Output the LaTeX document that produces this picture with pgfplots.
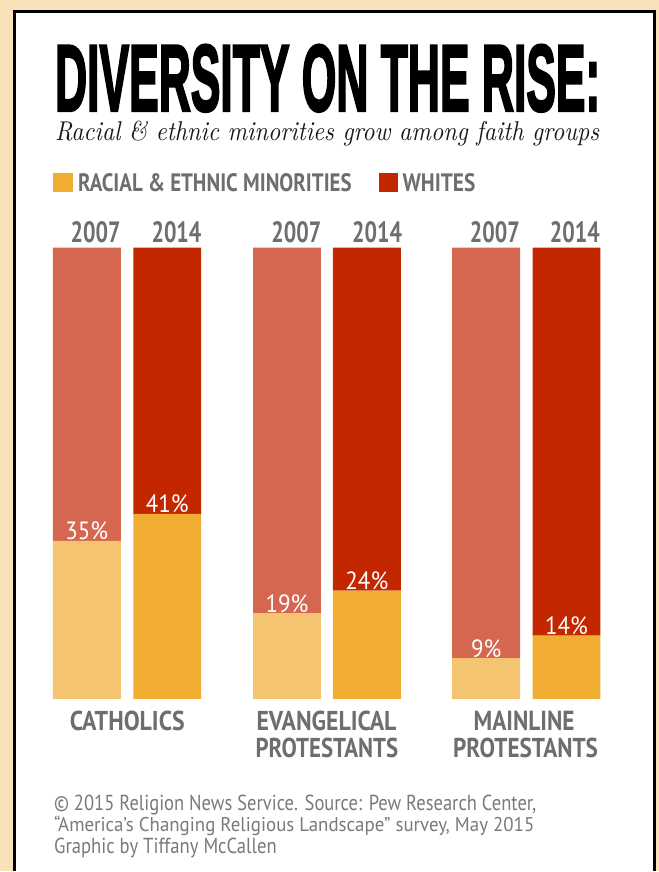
\documentclass[border=0pt]{standalone}
\usepackage{pgfplots}
\pgfplotsset{compat=1.18}
\usepackage{fontspec}
\usepackage{graphicx}
\newfontfamily\ptsans{PT Sans}
\newfontfamily\titlefont[FakeBold=3]{Liberation Sans Bold}
\definecolor{beige}{HTML}{F9E1BA}
\definecolor{minA}{HTML}{F5C470}
\definecolor{minB}{HTML}{F0AD32}
\definecolor{whA}{HTML}{D5664F}
\definecolor{whB}{HTML}{C22700}
\definecolor{txtgray}{HTML}{6E6E6E}
\definecolor{footgray}{HTML}{7A7A7A}
\newcommand{\rb}[3]{\resizebox{#1pt}{#2pt}{#3}}
\pgfplotsset{barframe/.style={at={(0pt,172pt)}, anchor=south west, scale only axis,
  width=660pt, height=452pt, xmin=0, xmax=660, ymin=0, ymax=100,
  hide axis, clip=false}}
\begin{document}
\begin{tikzpicture}[x=1pt,y=1pt]
% background and panel
\fill[beige] (0,0) rectangle (660,872);
\fill[white] (15,0) rectangle (656,860);
\draw[black, line width=3pt] (15,0) -- (15,860) -- (656,860) -- (656,0);
% title
\node[anchor=base west, inner sep=0pt] at (55,761) {\rb{546}{66}{\titlefont DIVERSITY ON THE RISE:}};
\node[anchor=base west, inner sep=0pt, text=black!90] at (55,731) {\rb{545}{19.5}{\itshape Racial \& ethnic minorities grow among faith groups}};
% legend
\fill[minB] (53,680) rectangle (73,699);
\node[anchor=base west, inner sep=0pt, text=txtgray] at (78,680) {\rb{274}{18}{\ptsans\bfseries RACIAL \& ETHNIC MINORITIES}};
\fill[whB] (380,680) rectangle (399,699);
\node[anchor=base west, inner sep=0pt, text=txtgray] at (403,680) {\rb{73}{18}{\ptsans\bfseries WHITES}};
% 2007 bars
\begin{axis}[barframe, ybar stacked, bar width=68pt]
\addplot[fill=minA, draw=none] coordinates {(87,35) (287.5,19) (487,9)};
\addplot[fill=whA, draw=none] coordinates {(87,65) (287.5,81) (487,91)};
\end{axis}
% 2014 bars
\begin{axis}[barframe, ybar stacked, bar width=68pt]
\addplot[fill=minB, draw=none] coordinates {(167.5,41) (367.5,24) (567.5,14)};
\addplot[fill=whB, draw=none] coordinates {(167.5,59) (367.5,76) (567.5,86)};
\end{axis}
% value labels at the top of the minority segments
\begin{axis}[barframe]
\addplot[draw=none, mark=none, point meta=explicit symbolic,
  nodes near coords={\scalebox{0.92}[1]{\pgfplotspointmeta\%}},
  every node near coord/.append style={anchor=base, yshift=1pt, inner sep=0pt, text=white, font=\ptsans\fontsize{25}{25}\selectfont}]
  coordinates {(87,35) [35] (167.5,41) [41] (287.5,19) [19] (367.5,24) [24] (487,9) [9] (567.5,14) [14]};
\end{axis}
% year labels
\foreach \xx/\yy in {121/2007, 202/2014, 322/2007, 403/2014, 521/2007, 601/2014}{
  \node[anchor=base east, inner sep=0pt, text=txtgray] at (\xx,629) {\rb{50}{21}{\ptsans\bfseries \yy}};
}
% category labels
\node[anchor=base, inner sep=0pt, text=txtgray] at (127.5,140) {\rb{115}{19.5}{\ptsans\bfseries CATHOLICS}};
\node[anchor=base, inner sep=0pt, text=txtgray] at (327,140) {\rb{140}{19.5}{\ptsans\bfseries EVANGELICAL}};
\node[anchor=base, inner sep=0pt, text=txtgray] at (327.5,113) {\rb{143}{19.5}{\ptsans\bfseries PROTESTANTS}};
\node[anchor=base, inner sep=0pt, text=txtgray] at (525,140) {\rb{101}{19.5}{\ptsans\bfseries MAINLINE}};
\node[anchor=base, inner sep=0pt, text=txtgray] at (526.5,113) {\rb{145}{19.5}{\ptsans\bfseries PROTESTANTS}};
% footer
\node[anchor=base west, inner sep=0pt, text=footgray] at (54,60) {\rb{483}{15.5}{\ptsans © 2015 Religion News Service. Source: Pew Research Center,}};
\node[anchor=base west, inner sep=0pt, text=footgray] at (54,39) {\rb{481}{15.5}{\ptsans “America’s Changing Religious Landscape” survey, May 2015}};
\node[anchor=base west, inner sep=0pt, text=footgray] at (54,17) {\rb{223}{15.5}{\ptsans Graphic by Tiffany McCallen}};
\end{tikzpicture}
\end{document}
